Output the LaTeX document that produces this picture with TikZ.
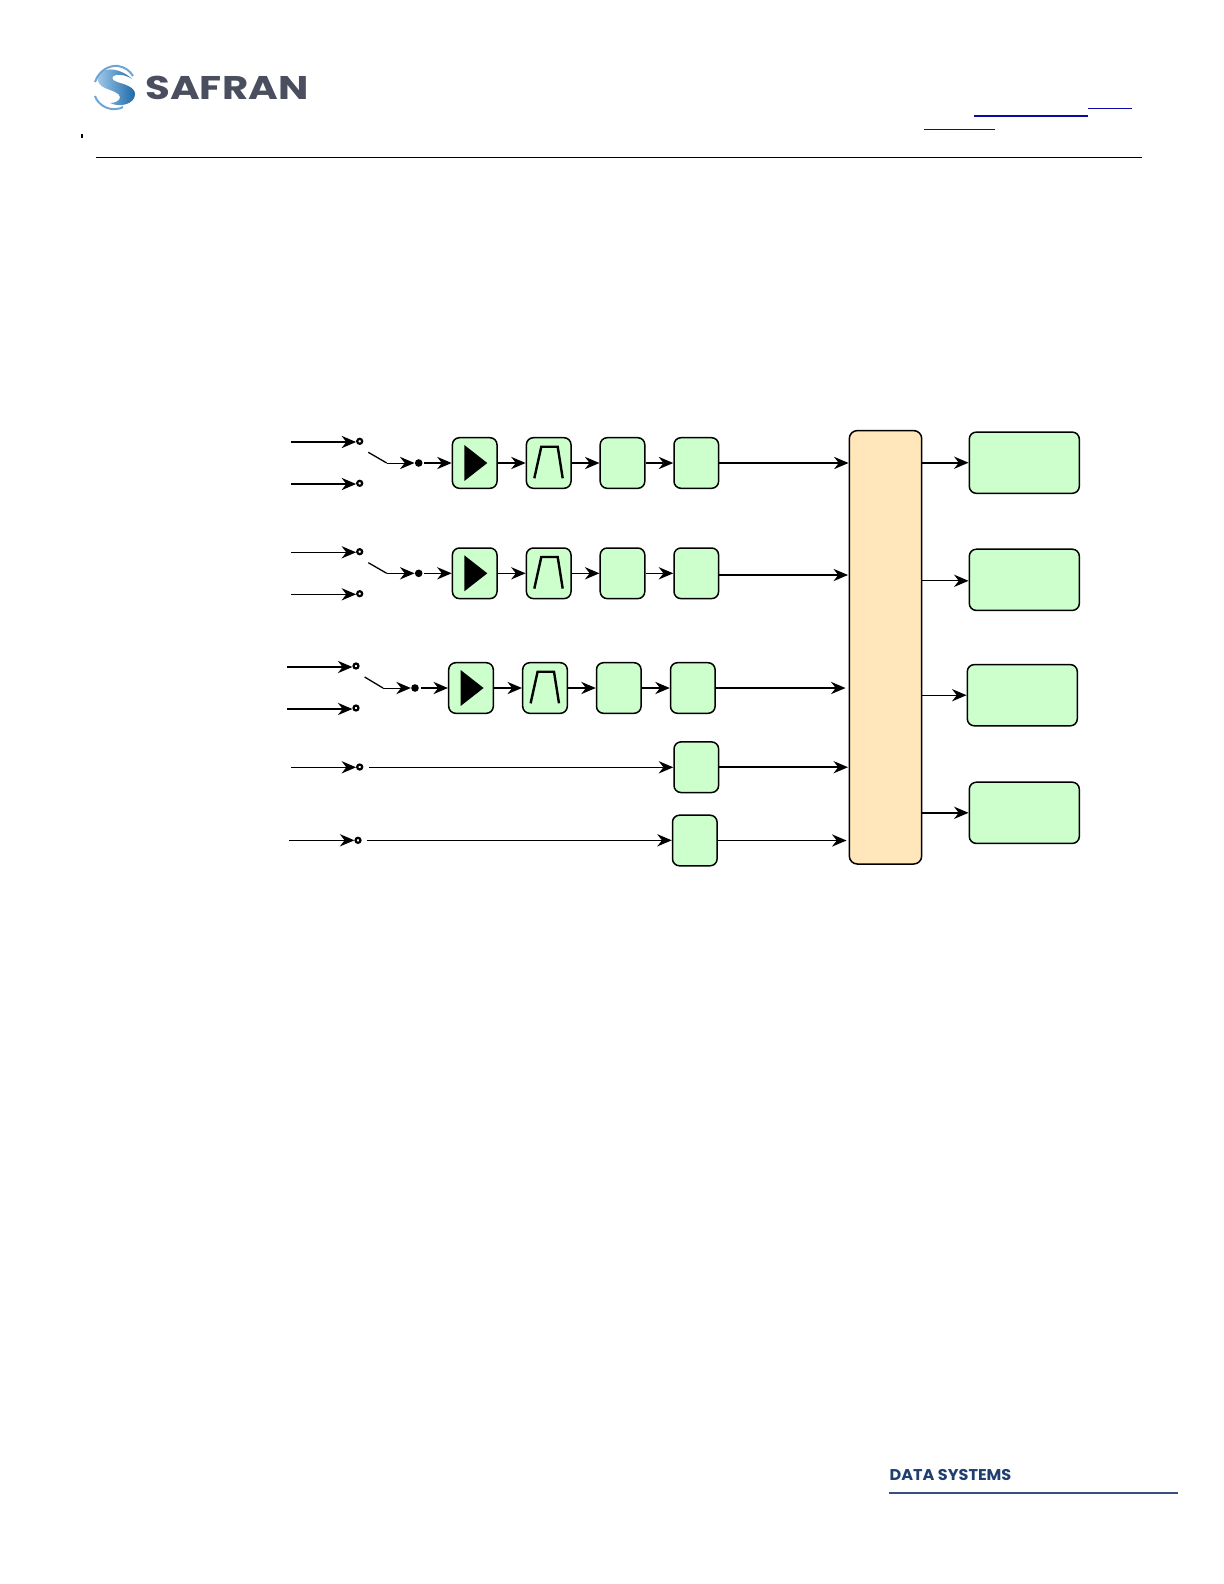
\documentclass[tikz,border=0pt]{standalone}
\usepackage{fontspec}
\usepackage{graphicx}
\usetikzlibrary{arrows.meta}
\newfontfamily\logofont{Poppins}
\definecolor{boxgreen}{HTML}{CCFFCC}
\definecolor{busorange}{HTML}{FFE6BB}
\definecolor{linkblue}{HTML}{0A0AA8}
\definecolor{logogrey}{HTML}{4A4E5E}
\definecolor{dsblue}{HTML}{1F3F70}
\definecolor{dsline}{HTML}{3A4D85}
\definecolor{swooshlight}{HTML}{A8CDEC}
\definecolor{swooshdark}{HTML}{1C6AA8}
\definecolor{swooshring}{HTML}{6FA5D6}
\tikzset{
  blockbase/.style={draw=black,line width=0.75bp,fill=boxgreen,rounded corners=3.5bp,inner sep=0pt},
  smallblock/.style={blockbase,minimum width=22.3bp,minimum height=25.3bp},
  outblock/.style={blockbase,minimum width=55bp,minimum height=30.6bp},
  busblock/.style={draw=black,line width=0.75bp,fill=busorange,rounded corners=4bp,inner sep=0pt,minimum width=36.2bp,minimum height=216.7bp},
  term/.style={circle,draw=black,line width=1.1bp,fill=white,minimum size=2.5bp,inner sep=0pt},
  termdot/.style={circle,fill=black,minimum size=3.8bp,inner sep=0pt},
  arrowthin/.style={line width=0.5bp,-{Stealth[length=7.3bp,width=6.2bp,inset=2.4bp,line width=0pt]}},
  arrowthick/.style={line width=1bp,-{Stealth[length=7.3bp,width=6.2bp,inset=2.4bp,line width=0pt]}},
  swline/.style={line width=0.65bp,line join=round},
  amptri/.style={fill=black},
  bandpass/.style={line width=1.2bp,line join=miter},
}
\begin{document}
\begin{tikzpicture}[x=0.5bp,y=-0.5bp]
\useasboundingbox (0,0) rectangle (1224,1584);
% header logo
\shade[left color=swooshlight,right color=swooshdark]
  (132,79) .. controls (124,71) and (111,67) .. (103,71)
  .. controls (95,75) and (96,84) .. (105,88)
  .. controls (112,91) and (120,93) .. (120,97)
  .. controls (120,101) and (115,103) .. (110,103)
  .. controls (120,108) and (135,104) .. (135,94)
  .. controls (135,87) and (124,84) .. (117,82)
  .. controls (111,80) and (111,76) .. (116,75)
  .. controls (121,74) and (128,76) .. (132,79) -- cycle;
\draw[swooshring,line width=1bp] (95,82) .. controls (99,70) and (110,65) .. (118,66) .. controls (125,67) and (130,71) .. (133,76);
\draw[swooshring,line width=1bp] (95,96) .. controls (98,105) and (108,110) .. (116,109) .. controls (119,109) and (121,108) .. (123,107);
\node[font=\logofont\bfseries,text=logogrey,inner sep=0pt,anchor=base west] (logotext) at (145,99) {\scalebox{1.23}[1]{\fontsize{16.4bp}{18bp}\selectfont SAFRAN}};
\fill[black] (81.3,133.5) rectangle (83,138);
\draw[black,line width=0.6bp] (96,157.3) -- (1141.7,157.3);
\draw[linkblue,line width=1bp] (974,115.7) -- (1087.7,115.7);
\draw[linkblue,line width=0.5bp] (1087.7,108.3) -- (1131.7,108.3);
\draw[linkblue,line width=0.5bp] (924,129.3) -- (995,129.3);
% footer
\node[font=\logofont\bfseries,text=dsblue,inner sep=0pt,anchor=base west] (dstext) at (889.3,1480) {\scalebox{1.03}[1]{\fontsize{7.8bp}{9bp}\selectfont DATA SYSTEMS}};
\draw[dsline,line width=0.6bp] (889.3,1493) -- (1177.7,1493);
% bus and outputs
\node[busblock] (bus) at (885.5,647.3) {};
\node[outblock] (o1) at (1024.3,462.7) {};
\node[outblock] (o2) at (1024.3,579.8) {};
\node[outblock] (o3) at (1022.3,695.2) {};
\node[outblock] (o4) at (1024.3,812.8) {};
% row 1
\node[smallblock] (a1) at (474.7,463) {};
\node[smallblock] (f1) at (548.7,463) {};
\node[smallblock] (c1) at (622.5,463) {};
\node[smallblock] (d1) at (696.3,463) {};
% row 2
\node[smallblock] (a2) at (474.7,573.3) {};
\node[smallblock] (f2) at (548.7,573.3) {};
\node[smallblock] (c2) at (622.5,573.3) {};
\node[smallblock] (d2) at (696.3,573.3) {};
% row 3
\node[smallblock] (a3) at (471,688) {};
\node[smallblock] (f3) at (545,688) {};
\node[smallblock] (c3) at (618.8,688) {};
\node[smallblock] (d3) at (692.8,688) {};
% rows 4, 5
\node[smallblock] (d4) at (696.3,767.2) {};
\node[smallblock] (d5) at (694.8,840.5) {};
% symbols
\foreach \n/\cx/\cy in {1/474.7/463,2/474.7/573.3,3/471/688}{
  \fill[amptri] (\cx-10.4,\cy-18) -- (\cx+12.6,\cy) -- (\cx-10.4,\cy+18) -- cycle;
  \draw[bandpass] (\cx+59.6,\cy+15.3) -- (\cx+66.6,\cy-16.3) -- (\cx+83,\cy-16.3) -- (\cx+88,\cy+15.3);
}
% terminals
\node[term] (t1a) at (359.7,441.3) {};
\node[term] (t1b) at (359.7,483.3) {};
\node[term] (t2a) at (359.7,551.7) {};
\node[term] (t2b) at (359.7,593.7) {};
\node[term] (t3a) at (356,666) {};
\node[term] (t3b) at (356,708) {};
\node[term] (t4) at (359.7,767) {};
\node[term] (t5) at (358,840.3) {};
\node[termdot] (s1) at (418.7,463) {};
\node[termdot] (s2) at (418.7,573.3) {};
\node[termdot] (s3) at (415,688) {};
% free ends
\foreach \n/\x/\y in {i1a/291/442,i1b/291/484,i2a/291/552.3,i2b/291/594.3,i3a/287/667,i3b/287/709,i4/291/767.3,i5/289/840.3,
  w1a/368.3/452.3,w1b/386.7/463,w2a/368.3/562.7,w2b/386.7/573.3,w3a/364.6/677,w3b/383/688,
  l4/369/767.3,l5/366.7/840.3,
  s1o/424/463,s2o/424/573.3,s3o/421/688,
  d2o/718.7/575,b2/848/575,b3/845.5/688,b4/848/767.2,b5/846.5/840.5,bo2/921.7/580.8}{
  \coordinate (\n) at (\x,\y);
}
% inputs
\draw[arrowthick] (i1a) -- (t1a.west |- i1a);
\draw[arrowthick] (i1b) -- (t1b.west |- i1b);
\draw[arrowthin] (i2a) -- (t2a.west |- i2a);
\draw[arrowthin] (i2b) -- (t2b.west |- i2b);
\draw[arrowthick] (i3a) -- (t3a.west |- i3a);
\draw[arrowthick] (i3b) -- (t3b.west |- i3b);
\draw[arrowthin] (i4) -- (t4.west |- i4);
\draw[arrowthin] (i5) -- (t5.west |- i5);
% switches
\draw[swline] (w1a) -- (w1b);
\draw[swline] (w2a) -- (w2b);
\draw[swline] (w3a) -- (w3b);
\draw[arrowthin] (w1b) -- (s1.west);
\draw[arrowthin] (w2b) -- (s2.west);
\draw[arrowthin] (w3b) -- (s3.west);
\draw[arrowthick] (s1o) -- (a1.west);
\draw[arrowthin] (s2o) -- (a2.west);
\draw[arrowthick] (s3o) -- (a3.west);
% chains
\draw[arrowthick] (a1) -- (f1);
\draw[arrowthick] (f1) -- (c1);
\draw[arrowthick] (c1) -- (d1);
\draw[arrowthin] (a2) -- (f2);
\draw[arrowthin] (f2) -- (c2);
\draw[arrowthin] (c2) -- (d2);
\draw[arrowthick] (a3) -- (f3);
\draw[arrowthick] (f3) -- (c3);
\draw[arrowthick] (c3) -- (d3);
\draw[arrowthin] (l4) -- (d4.west |- l4);
\draw[arrowthin] (l5) -- (d5.west |- l5);
% to bus
\draw[arrowthick] (d1.east) -- (bus.west |- d1.east);
\draw[arrowthick] (d2o) -- (b2);
\draw[arrowthick] (d3.east) -- (b3);
\draw[arrowthick] (d4.east) -- (b4);
\draw[arrowthin] (d5.east) -- (b5);
% from bus
\draw[arrowthick] (bus.east |- o1.west) -- (o1.west);
\draw[arrowthin] (bo2) -- (o2.west |- bo2);
\draw[arrowthin] (bus.east |- o3.west) -- (o3.west);
\draw[arrowthick] (bus.east |- o4.west) -- (o4.west);
\end{tikzpicture}
\end{document}
